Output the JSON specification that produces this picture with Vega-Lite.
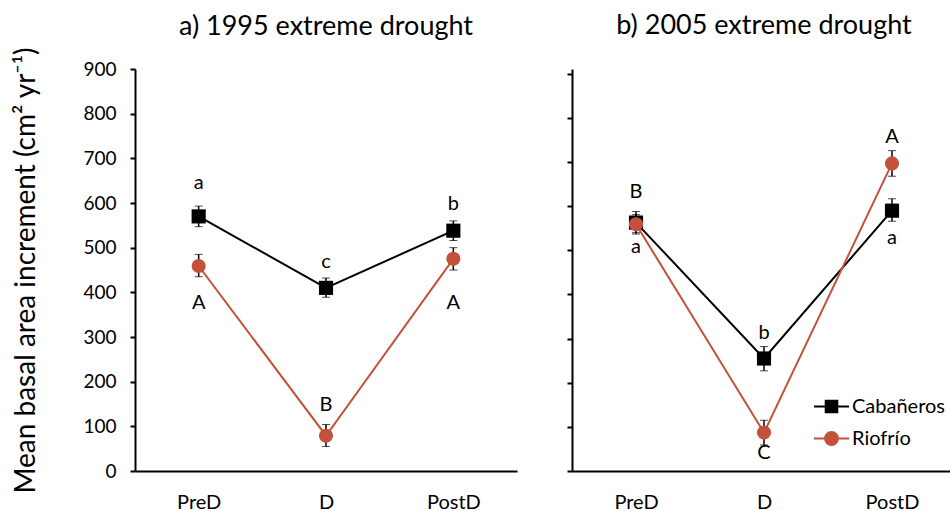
{
  "$schema": "https://vega.github.io/schema/vega-lite/v6.json",
  "padding": {"left": 12, "top": 12, "right": 0, "bottom": 0},
  "background": "white",
  "config": {
    "view": {"stroke": null},
    "font": "Lato",
    "axis": {"grid": false, "domainColor": "black", "domainWidth": 2, "tickColor": "black", "tickWidth": 2, "labelColor": "black", "labelFont": "Lato", "labelFontSize": 19, "titleFont": "Lato", "titleFontWeight": "normal", "titleColor": "black"},
    "title": {"font": "Lato", "fontSize": 27, "fontWeight": "normal", "color": "black", "anchor": "middle", "frame": "group"}
  },
  "datasets": {
    "pts": [
      {"panel": "a", "period": "PreD", "site": "Cabañeros", "mean": 570, "lo": 547, "hi": 593},
      {"panel": "a", "period": "D", "site": "Cabañeros", "mean": 410, "lo": 389, "hi": 432},
      {"panel": "a", "period": "PostD", "site": "Cabañeros", "mean": 538, "lo": 516, "hi": 560},
      {"panel": "a", "period": "PreD", "site": "Riofrío", "mean": 459, "lo": 435, "hi": 485},
      {"panel": "a", "period": "D", "site": "Riofrío", "mean": 79, "lo": 55, "hi": 104},
      {"panel": "a", "period": "PostD", "site": "Riofrío", "mean": 475, "lo": 450, "hi": 500},
      {"panel": "b", "period": "PreD", "site": "Cabañeros", "mean": 563, "lo": 540, "hi": 588},
      {"panel": "b", "period": "D", "site": "Cabañeros", "mean": 255, "lo": 227, "hi": 282},
      {"panel": "b", "period": "PostD", "site": "Cabañeros", "mean": 590, "lo": 566, "hi": 617},
      {"panel": "b", "period": "PreD", "site": "Riofrío", "mean": 559, "lo": 537, "hi": 581},
      {"panel": "b", "period": "D", "site": "Riofrío", "mean": 87, "lo": 59, "hi": 115},
      {"panel": "b", "period": "PostD", "site": "Riofrío", "mean": 697, "lo": 668, "hi": 726}
    ],
    "labs": [
      {"panel": "a", "period": "PreD", "text": "a", "at": 645},
      {"panel": "a", "period": "D", "text": "c", "at": 468},
      {"panel": "a", "period": "PostD", "text": "b", "at": 598},
      {"panel": "a", "period": "PreD", "text": "A", "at": 376},
      {"panel": "a", "period": "D", "text": "B", "at": 148},
      {"panel": "a", "period": "PostD", "text": "A", "at": 376},
      {"panel": "b", "period": "PreD", "text": "B", "at": 633},
      {"panel": "b", "period": "PreD", "text": "a", "at": 508},
      {"panel": "b", "period": "D", "text": "b", "at": 313},
      {"panel": "b", "period": "D", "text": "C", "at": 41},
      {"panel": "b", "period": "PostD", "text": "A", "at": 758},
      {"panel": "b", "period": "PostD", "text": "a", "at": 527}
    ]
  },
  "resolve": {"scale": {"color": "independent", "x": "independent", "y": "independent"}, "legend": {"color": "independent"}},
  "spacing": 49,
  "hconcat": [
    {
      "title": {"text": "a) 1995 extreme drought", "offset": 6},
      "width": 382,
      "height": 402,
      "layer": [
        {
          "data": {"name": "pts"},
          "transform": [{"filter": "datum.panel === 'a'"}],
          "mark": {"type": "line", "strokeWidth": 2},
          "encoding": {
            "x": {"field": "period", "type": "nominal", "scale": {"type": "point", "domain": ["PreD", "D", "PostD"], "padding": 0.5}, "axis": {"title": null, "ticks": false, "labelAngle": 0, "labelPadding": 21, "labelFontSize": 20}},
            "y": {"field": "mean", "type": "quantitative", "title": "Mean basal area increment (cm² yr⁻¹)", "scale": {"domain": [0, 900], "nice": false}, "axis": {"values": [0, 100, 200, 300, 400, 500, 600, 700, 800, 900], "tickSize": 5, "labelPadding": 14, "titleFontSize": 28, "titlePadding": 42}},
            "color": {"field": "site", "type": "nominal", "scale": {"domain": ["Cabañeros", "Riofrío"], "range": ["black", "#C4513B"]}, "legend": null}
          }
        },
        {
          "data": {"name": "pts"},
          "transform": [{"filter": "datum.panel === 'a'"}],
          "mark": {"type": "errorbar", "ticks": {"size": 8, "color": "black", "strokeWidth": 1.5}, "rule": {"color": "black", "strokeWidth": 1.5}},
          "encoding": {
            "x": {"field": "period", "type": "nominal"},
            "y": {"field": "lo", "type": "quantitative", "title": "Mean basal area increment (cm² yr⁻¹)"},
            "y2": {"field": "hi"}
          }
        },
        {
          "data": {"name": "pts"},
          "transform": [{"filter": "datum.panel === 'a' && datum.site === 'Cabañeros'"}],
          "mark": {"type": "point", "filled": true, "opacity": 1, "size": 200, "shape": "square"},
          "encoding": {
            "x": {"field": "period", "type": "nominal"},
            "y": {"field": "mean", "type": "quantitative", "title": "Mean basal area increment (cm² yr⁻¹)"},
            "color": {"field": "site", "type": "nominal", "legend": null}
          }
        },
        {
          "data": {"name": "pts"},
          "transform": [{"filter": "datum.panel === 'a' && datum.site === 'Riofrío'"}],
          "mark": {"type": "point", "filled": true, "opacity": 1, "size": 200, "shape": "circle"},
          "encoding": {
            "x": {"field": "period", "type": "nominal"},
            "y": {"field": "mean", "type": "quantitative", "title": "Mean basal area increment (cm² yr⁻¹)"},
            "color": {"field": "site", "type": "nominal", "legend": null}
          }
        },
        {
          "data": {"name": "labs"},
          "transform": [{"filter": "datum.panel === 'a'"}],
          "mark": {"type": "text", "fontSize": 20, "font": "Lato", "color": "black", "baseline": "middle"},
          "encoding": {
            "x": {"field": "period", "type": "nominal"},
            "y": {"field": "at", "type": "quantitative", "title": "Mean basal area increment (cm² yr⁻¹)"},
            "text": {"field": "text"}
          }
        }
      ]
    },
    {
      "title": {"text": "b) 2005 extreme drought", "offset": 29},
      "width": 384,
      "height": 402,
      "layer": [
        {
          "data": {"name": "pts"},
          "transform": [{"filter": "datum.panel === 'b'"}],
          "mark": {"type": "line", "strokeWidth": 2},
          "encoding": {
            "x": {"field": "period", "type": "nominal", "scale": {"type": "point", "domain": ["PreD", "D", "PostD"], "padding": 0.5}, "axis": {"title": null, "ticks": false, "labelAngle": 0, "labelPadding": 21, "labelFontSize": 20}},
            "y": {"field": "mean", "type": "quantitative", "scale": {"domain": [0, 911], "nice": false}, "axis": {"values": [0, 100, 200, 300, 400, 500, 600, 700, 800, 900], "tickSize": 5, "labels": false, "title": null}},
            "color": {"field": "site", "type": "nominal", "scale": {"domain": ["Cabañeros", "Riofrío"], "range": ["black", "#C4513B"]},
              "legend": {"title": null, "orient": "none", "legendX": 241, "legendY": 319, "padding": 0, "symbolSize": 1225, "rowPadding": 3, "labelFont": "Lato", "labelFontSize": 20, "labelColor": "black", "labelOffset": 2,
                "encode": {"symbols": {"update": {
                  "shape": {"signal": "datum.value === 'Cabañeros' ? 'M-1,0H1M-0.33,-0.33H0.33V0.33H-0.33Z' : 'M-1,0H1M0.37,0A0.37,0.37 0 1 1 -0.37,0A0.37,0.37 0 1 1 0.37,0Z'"},
                  "fill": {"signal": "datum.value === 'Cabañeros' ? 'black' : '#C4513B'"},
                  "stroke": {"signal": "datum.value === 'Cabañeros' ? 'black' : '#C4513B'"},
                  "strokeWidth": {"value": 2},
                  "opacity": {"value": 1}
                }}}}
            }
          }
        },
        {
          "data": {"name": "pts"},
          "transform": [{"filter": "datum.panel === 'b'"}],
          "mark": {"type": "errorbar", "ticks": {"size": 8, "color": "black", "strokeWidth": 1.5}, "rule": {"color": "black", "strokeWidth": 1.5}},
          "encoding": {
            "x": {"field": "period", "type": "nominal"},
            "y": {"field": "lo", "type": "quantitative"},
            "y2": {"field": "hi"}
          }
        },
        {
          "data": {"name": "pts"},
          "transform": [{"filter": "datum.panel === 'b' && datum.site === 'Cabañeros'"}],
          "mark": {"type": "point", "filled": true, "opacity": 1, "size": 200, "shape": "square"},
          "encoding": {
            "x": {"field": "period", "type": "nominal"},
            "y": {"field": "mean", "type": "quantitative"},
            "color": {"field": "site", "type": "nominal"}
          }
        },
        {
          "data": {"name": "pts"},
          "transform": [{"filter": "datum.panel === 'b' && datum.site === 'Riofrío'"}],
          "mark": {"type": "point", "filled": true, "opacity": 1, "size": 200, "shape": "circle"},
          "encoding": {
            "x": {"field": "period", "type": "nominal"},
            "y": {"field": "mean", "type": "quantitative"},
            "color": {"field": "site", "type": "nominal"}
          }
        },
        {
          "data": {"name": "labs"},
          "transform": [{"filter": "datum.panel === 'b'"}],
          "mark": {"type": "text", "fontSize": 20, "font": "Lato", "color": "black", "baseline": "middle"},
          "encoding": {
            "x": {"field": "period", "type": "nominal"},
            "y": {"field": "at", "type": "quantitative"},
            "text": {"field": "text"}
          }
        }
      ]
    }
  ]
}
